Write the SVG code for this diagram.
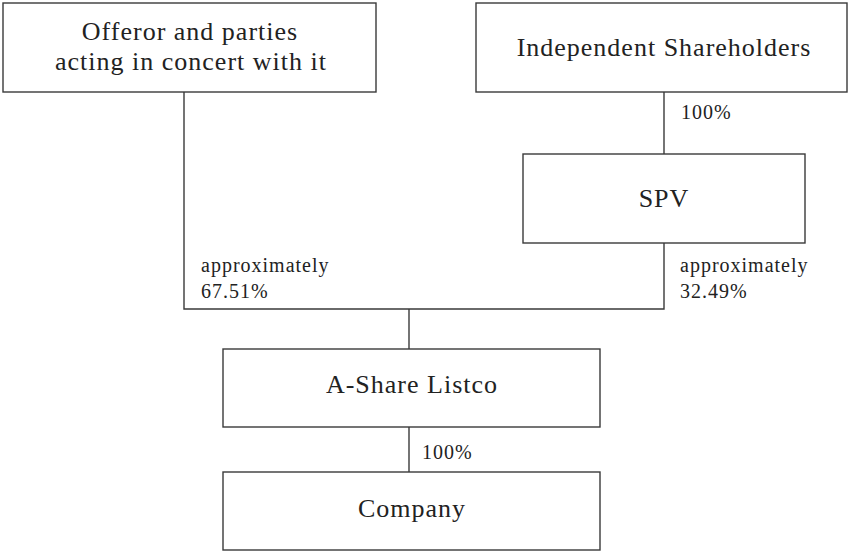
<svg xmlns="http://www.w3.org/2000/svg" width="848" height="552" viewBox="0 0 848 552">
<style>
.box{fill:#fff;stroke:#3a3a3a;stroke-width:1.4}
.ln{fill:none;stroke:#3a3a3a;stroke-width:1.4}
.t{font-family:'Liberation Serif','DejaVu Serif',serif;font-size:26px;letter-spacing:1px;fill:#222;text-anchor:middle}
.s{font-family:'Liberation Serif','DejaVu Serif',serif;font-size:20px;letter-spacing:1px;fill:#222}
</style>
<rect width="848" height="552" fill="#fff"/>
<g id="connectors">
<path class="ln" d="M184 92V309H664V243"/>
<path class="ln" d="M664 92V154"/>
<path class="ln" d="M409 309V349"/>
<path class="ln" d="M409 427V472"/>
<text class="s" x="681" y="119">100%</text>
<text class="s" x="201" y="272">approximately</text>
<text class="s" x="201" y="298">67.51%</text>
<text class="s" x="680" y="272">approximately</text>
<text class="s" x="680" y="298">32.49%</text>
<text class="s" x="422" y="459">100%</text>
</g>
<g id="offeror">
<rect class="box" x="3" y="3" width="373" height="89"/>
<text class="t" x="190" y="40">Offeror and parties</text>
<text class="t" x="191" y="70">acting in concert with it</text>
</g>
<g id="independent">
<rect class="box" x="476" y="3" width="371" height="89"/>
<text class="t" x="664" y="56">Independent Shareholders</text>
</g>
<g id="spv">
<rect class="box" x="523" y="154" width="282" height="89"/>
<text class="t" x="664" y="207">SPV</text>
</g>
<g id="listco">
<rect class="box" x="223" y="349" width="377" height="78"/>
<text class="t" x="412" y="393">A-Share Listco</text>
</g>
<g id="company">
<rect class="box" x="223" y="472" width="377" height="78"/>
<text class="t" x="412" y="517">Company</text>
</g>
</svg>
